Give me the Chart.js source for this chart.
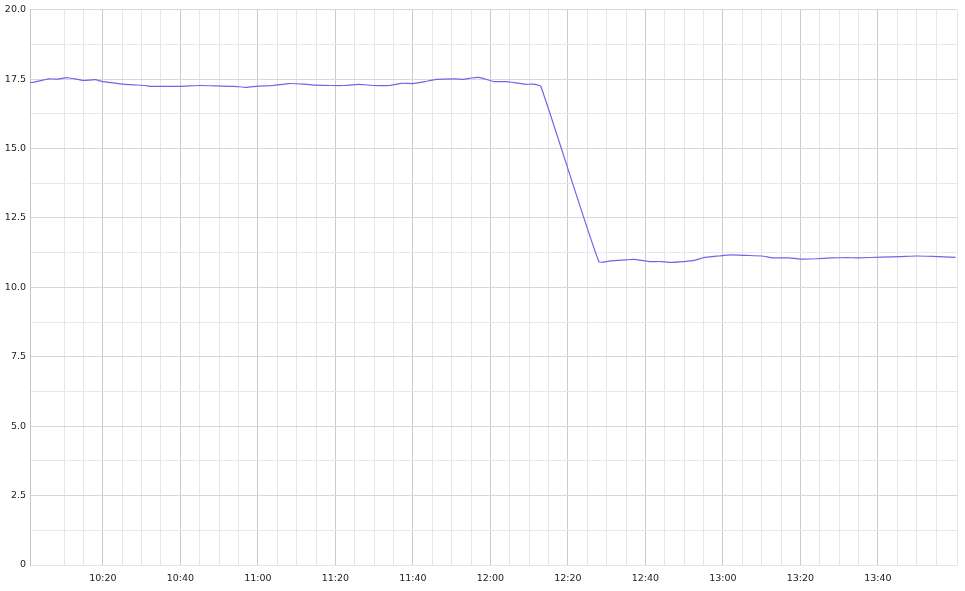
<!DOCTYPE html>
<html>
<head>
<meta charset="utf-8">
<script src="https://cdn.jsdelivr.net/npm/chart.js@4/dist/chart.umd.min.js"></script>
<style>
	html, body { margin: 0; padding: 0; background: #fff; }
	#wrap { width: 965px; height: 591px; }
</style>
</head>
<body>
<div id="wrap"><canvas id="miGrafico"></canvas></div>
<script>
// sample times (HH:MM) and readings
const times = [
	"10:01", "10:02", "10:06", "10:08", "10:11", "10:15", "10:18", "10:20",
	"10:24", "10:27", "10:31", "10:32", "10:36", "10:40", "10:45", "10:49",
	"10:54", "10:57", "11:00", "11:04", "11:08", "11:12", "11:15", "11:19",
	"11:22", "11:26", "11:30", "11:34", "11:37", "11:40", "11:43", "11:46",
	"11:51", "11:53", "11:55", "11:57", "12:01", "12:04", "12:08", "12:09",
	"12:11", "12:13", "12:28", "12:31", "12:35", "12:37", "12:41", "12:44",
	"12:46", "12:50", "12:53", "12:55", "12:59", "13:02", "13:06", "13:10",
	"13:13", "13:17", "13:20", "13:24", "13:28", "13:32", "13:35", "13:41",
	"13:46", "13:50", "13:55", "13:57", "14:00"
];
const values = [
	17.38, 17.38, 17.51, 17.50, 17.55, 17.45, 17.48, 17.41,
	17.34, 17.30, 17.27, 17.24, 17.24, 17.24, 17.27, 17.26,
	17.24, 17.20, 17.25, 17.27, 17.34, 17.32, 17.28, 17.27,
	17.27, 17.31, 17.27, 17.27, 17.35, 17.34, 17.41, 17.49,
	17.51, 17.49, 17.54, 17.56, 17.41, 17.41, 17.34, 17.31,
	17.32, 17.24, 10.92, 10.95, 10.99, 11.01, 10.93, 10.93,
	10.90, 10.93, 10.98, 11.07, 11.13, 11.17, 11.15, 11.13,
	11.06, 11.06, 11.02, 11.03, 11.06, 11.07, 11.06, 11.09,
	11.11, 11.13, 11.11, 11.10, 11.08
];
const xRange = ["10:01:12", "14:00:24"];
const yTicks = [0, 2.5, 5, 7.5, 10, 12.5, 15, 17.5, 20];

function toMin(t) {
	const p = t.split(":").map(Number);
	return p[0] * 60 + p[1] + (p[2] || 0) / 60;
}

function fmtTime(m) {
	const h = Math.floor(m / 60);
	const mm = Math.round(m % 60);
	return h + ":" + (mm < 10 ? "0" : "") + mm;
}

function initGrafico() {
	const ctx = document.getElementById("miGrafico");
	const points = times.map((t, i) => ({ x: toMin(t), y: values[i] }));

	new Chart(ctx, {
		type: "line",
		data: {
			datasets: [
				{
					data: points,
					borderColor: "rgb(112, 102, 232)",
					borderWidth: 1.2,
					pointRadius: 0,
					tension: 0.15,
					fill: false,
				},
			],
		},
		options: {
			responsive: true,
			maintainAspectRatio: false,
			animation: false,
			layout: { padding: { top: 8, right: 8, left: 0, bottom: 0 } },
			plugins: { legend: { display: false }, tooltip: { enabled: false } },
			scales: {
				x: {
					type: "linear",
					min: toMin(xRange[0]),
					max: toMin(xRange[1]),
					afterFit: (s) => { s.height = 26; },
					ticks: {
						stepSize: 5,
						autoSkip: false,
						maxRotation: 0,
						padding: 8,
						color: "#222",
						font: { family: "DejaVu Sans", size: 9.5 },
						callback: (v) => (Number.isInteger(v) && v % 20 === 0 ? fmtTime(v) : ""),
					},
					grid: {
						drawTicks: false,
						lineWidth: 1,
						color: (c) => {
							const v = c.tick ? c.tick.value : 0;
							return Number.isInteger(v) && v % 20 === 0 ? "rgb(208, 200, 208)" : "rgb(232, 228, 232)";
						},
					},
					border: { color: "rgb(240, 222, 232)" },
				},
				y: {
					min: yTicks[0],
					max: yTicks[yTicks.length - 1],
					afterFit: (s) => { s.width = 30; },
					ticks: {
						stepSize: 1.25,
						autoSkip: false,
						padding: 4,
						color: "#222",
						font: { family: "DejaVu Sans", size: 9.5 },
						callback: (v) => (yTicks.includes(v) ? (v === 0 ? "0" : v.toFixed(1)) : ""),
					},
					grid: {
						drawTicks: false,
						color: (c) => {
							const v = c.tick ? c.tick.value : 0;
							return yTicks.includes(v) ? "rgb(220, 214, 220)" : "rgb(234, 230, 234)";
						},
					},
					border: { color: "rgb(200, 195, 200)" },
				},
			},
		},
	});
}

initGrafico();
</script>
</body>
</html>
